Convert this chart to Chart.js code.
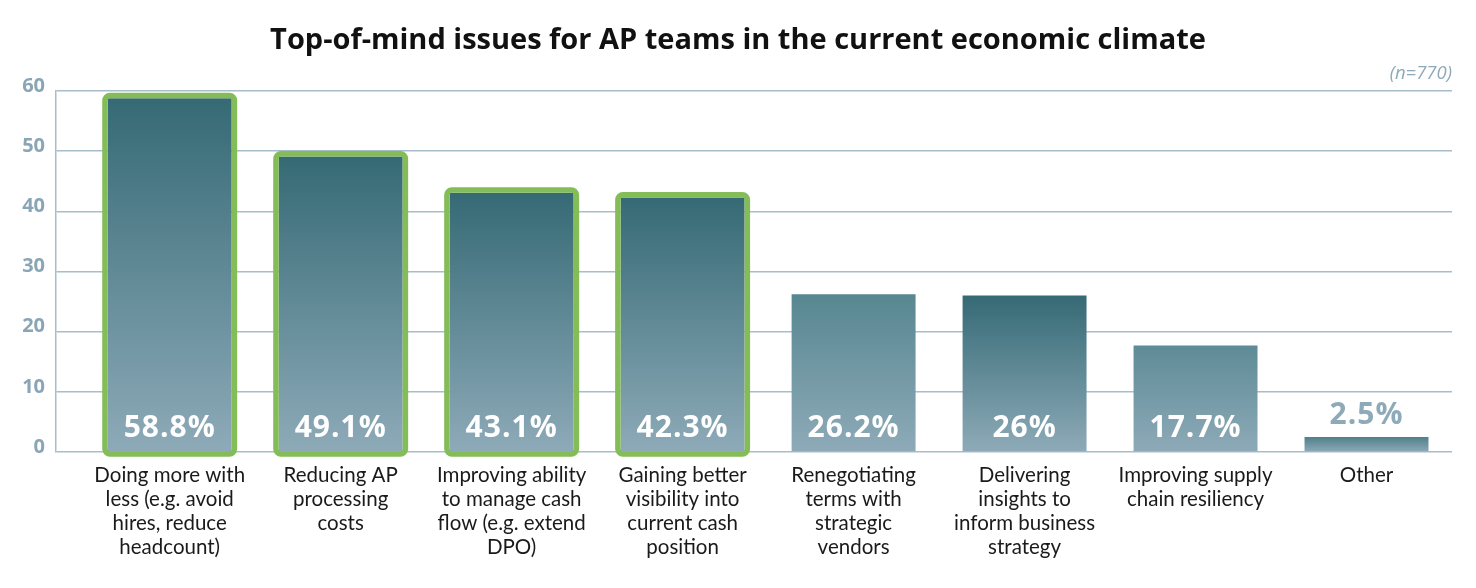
<!DOCTYPE html>
<html>
<head>
<meta charset="utf-8">
<script src="https://cdn.jsdelivr.net/npm/chart.js@4.4.0/dist/chart.umd.min.js"></script>
<style>
  html, body { margin: 0; padding: 0; background: #ffffff; }
  #wrap { width: 1476px; height: 588px; }
</style>
</head>
<body>
<div id="wrap"><canvas id="c" width="1476" height="588"></canvas></div>
<script>
// ---- data ----
const categories = [
  ["Doing more with", "less (e.g. avoid", "hires, reduce", "headcount)"],
  ["Reducing AP", "processing", "costs"],
  ["Improving ability", "to manage cash", "flow (e.g. extend", "DPO)"],
  ["Gaining better", "visibility into", "current cash", "position"],
  ["Renegotiating", "terms with", "strategic", "vendors"],
  ["Delivering", "insights to", "inform business", "strategy"],
  ["Improving supply", "chain resiliency"],
  ["Other"]
];
const values = [58.8, 49.1, 43.1, 42.3, 26.2, 26, 17.7, 2.5];
const valueLabels = ["58.8%", "49.1%", "43.1%", "42.3%", "26.2%", "26%", "17.7%", "2.5%"];
const highlighted = [true, true, true, true, false, false, false, false];
const yTicks = [0, 10, 20, 30, 40, 50, 60];
const titleText = "Top-of-mind issues for AP teams in the current economic climate";
const subtitleText = "(n=770)";

// ---- styles ----
const topColors = ["#356a75", "#356a75", "#356a75", "#356a75", "#578791", "#356a75", "#5e8b97", "#4f7f8b"];
const bottomColor = "#8eaab8";
const gridColor = "#a7bdc9";
const tickColor = "#8aa5b5";
const greenBorder = "#84bd57";
const FONT = "'Open Sans', Lato, sans-serif";
const FONT2 = "Lato, 'Open Sans', sans-serif";

const points = values.map((v, i) => ({ x: i, y: v }));

function barGradient(ctx) {
  const chart = ctx.chart;
  if (ctx.type !== 'data' || !chart.chartArea) return topColors[0];
  const yScale = chart.scales.y;
  const v = ctx.raw.y;
  const top = yScale.getPixelForValue(v);
  const base = yScale.getPixelForValue(0);
  const g = chart.ctx.createLinearGradient(0, top, 0, base);
  g.addColorStop(0, topColors[ctx.dataIndex]);
  g.addColorStop(1, bottomColor);
  return g;
}

const highlightPlugin = {
  id: 'highlightBorder',
  afterDatasetsDraw(chart) {
    const meta = chart.getDatasetMeta(0);
    const c = chart.ctx;
    c.save();
    meta.data.forEach((bar, i) => {
      if (!highlighted[i]) return;
      const lw = 5.5;
      const half = bar.width / 2 + lw / 2;
      const x0 = bar.x - half, x1 = bar.x + half;
      const y0 = bar.y - lw / 2, y1 = bar.base + lw / 2;
      c.lineWidth = lw;
      c.strokeStyle = greenBorder;
      c.beginPath();
      c.roundRect(x0, y0, x1 - x0, y1 - y0, 5);
      c.stroke();
    });
    c.restore();
  }
};

const valueLabelPlugin = {
  id: 'valueLabels',
  afterDatasetsDraw(chart) {
    const meta = chart.getDatasetMeta(0);
    const c = chart.ctx;
    c.save();
    c.font = "bold 30px " + FONT;
    if ('letterSpacing' in c) c.letterSpacing = '1px';
    c.textAlign = 'center';
    c.textBaseline = 'middle';
    meta.data.forEach((bar, i) => {
      const h = bar.base - bar.y;
      if (h > 60) {
        c.fillStyle = '#ffffff';
        c.fillText(valueLabels[i], bar.x, bar.base - 23);
      } else {
        c.fillStyle = bottomColor;
        c.fillText(valueLabels[i], bar.x, bar.y - 22);
      }
    });
    c.restore();
  }
};

new Chart(document.getElementById('c'), {
  type: 'bar',
  data: {
    datasets: [{
      data: points,
      backgroundColor: barGradient,
      borderWidth: 0,
      categoryPercentage: 1,
      barPercentage: 0.725
    }]
  },
  options: {
    responsive: false,
    animation: false,
    layout: { padding: { left: 0, right: 0, top: 0, bottom: 0 } },
    plugins: {
      legend: { display: false },
      tooltip: { enabled: false },
      title: {
        display: true,
        text: titleText,
        color: '#111111',
        font: { family: FONT, size: 29, weight: 'bold' },
        padding: { top: 23, bottom: 5 }
      },
      subtitle: {
        display: true,
        fullSize: false,
        text: subtitleText,
        align: 'end',
        color: bottomColor,
        font: { family: FONT, size: 18.5, style: 'italic' },
        padding: { top: 0, bottom: 6 }
      }
    },
    scales: {
      x: {
        type: 'linear',
        offset: false,
        min: -0.665,
        max: 7.5,
        grid: { display: false },
        border: { display: false },
        afterBuildTicks(scale) {
          scale.ticks = categories.map((_, i) => ({ value: i }));
        },
        afterFit(scale) { scale.height = 136; },
        ticks: {
          autoSkip: false,
          maxRotation: 0,
          padding: 3,
          color: '#1a1a1a',
          font: { family: FONT2, size: 20.5, lineHeight: 1.17 },
          callback: (v) => categories[v] || ''
        }
      },
      y: {
        min: 0,
        max: 60,
        afterBuildTicks(scale) {
          scale.ticks = yTicks.map(v => ({ value: v }));
        },
        afterFit(scale) { scale.width = 56; },
        grid: { color: gridColor, lineWidth: 1.5, drawTicks: false },
        border: { display: true, color: gridColor, width: 1.5 },
        ticks: {
          padding: 11,
          labelOffset: -5,
          color: tickColor,
          font: { family: FONT, size: 20, weight: 'bold' }
        }
      },
      yRight: {
        position: 'right',
        min: 0,
        max: 60,
        grid: { display: false, drawOnChartArea: false },
        border: { display: false },
        ticks: { display: false },
        afterFit(scale) { scale.width = 24; }
      }
    }
  },
  plugins: [highlightPlugin, valueLabelPlugin]
});
</script>
</body>
</html>
